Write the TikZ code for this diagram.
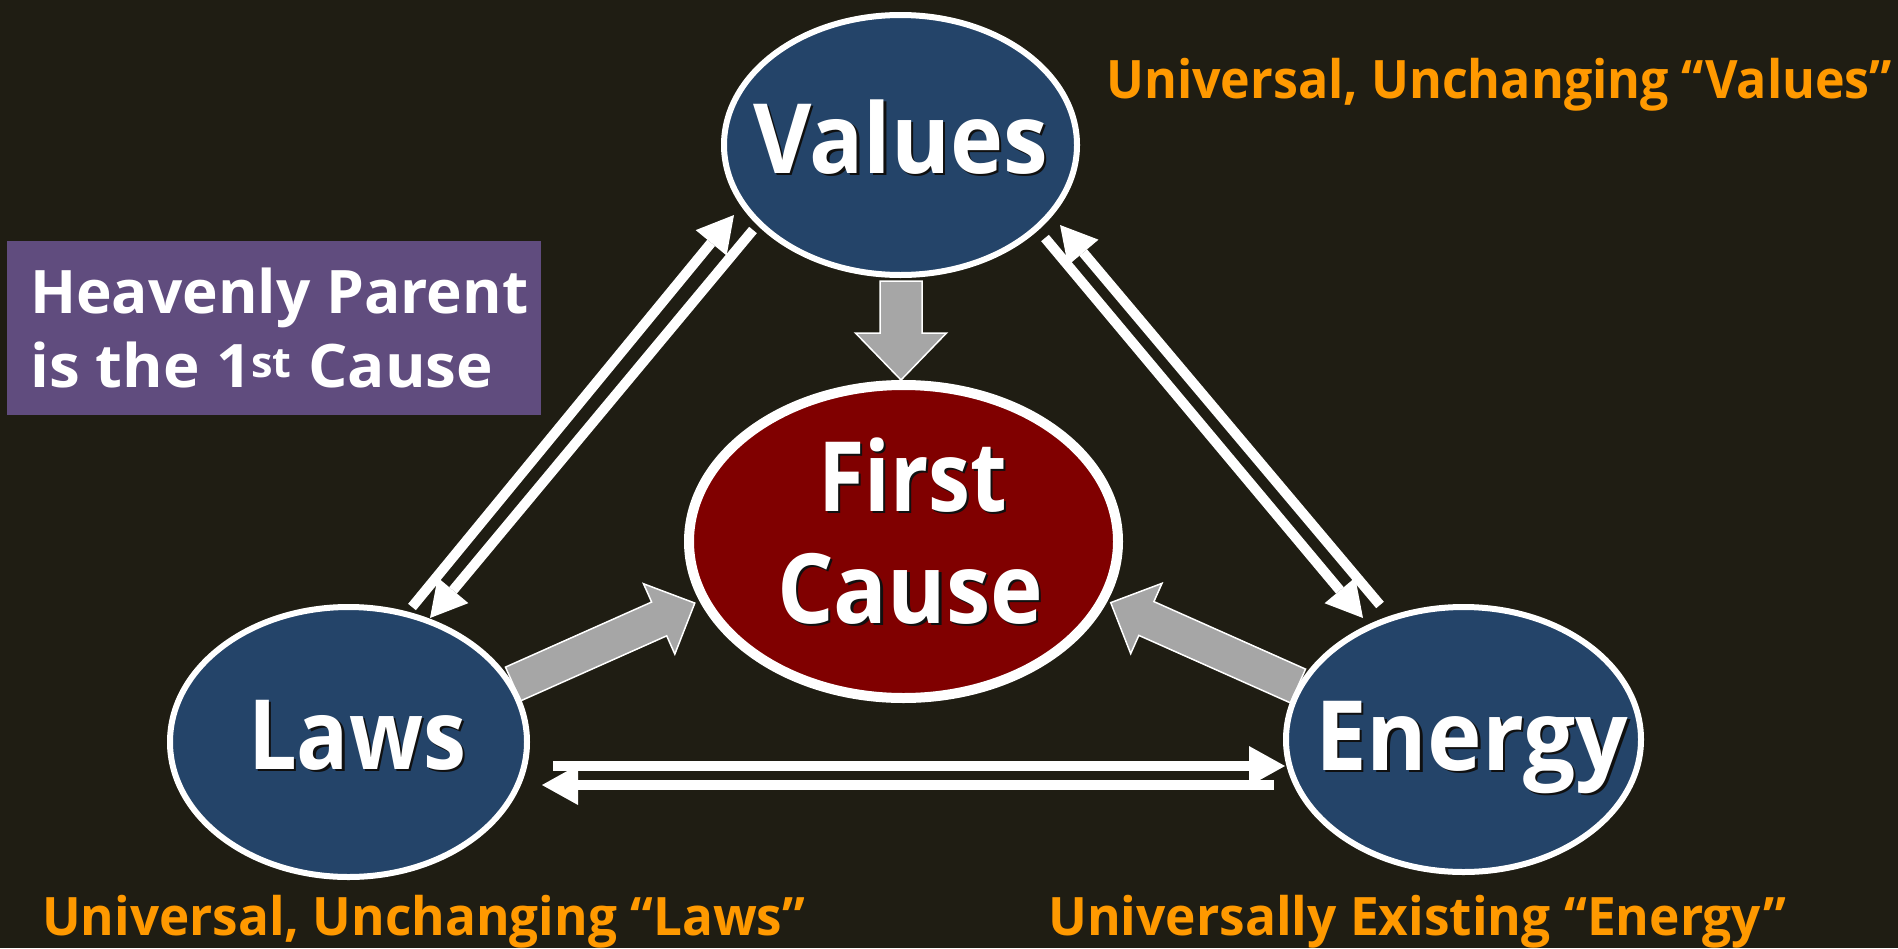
\documentclass[tikz,border=0pt]{standalone}
\usepackage{fontspec}
\usepackage{graphicx}
\setmainfont{Open Sans}
\usetikzlibrary{arrows.meta,shapes.geometric}
\definecolor{bg}{HTML}{1F1D13}
\definecolor{ellblue}{HTML}{244469}
\definecolor{causered}{HTML}{800000}
\definecolor{boxpurple}{HTML}{604C7E}
\definecolor{lblorange}{HTML}{FF9900}
\definecolor{arrgray}{HTML}{A6A6A6}
\definecolor{shadowc}{HTML}{101010}
\newcommand\shd[1]{\leavevmode\rlap{\kern2.5pt\raisebox{-2.5pt}{\textcolor{shadowc}{#1}}}#1}
\newcommand\fitw[2]{\resizebox{#1}{\height}{#2}}
\newcommand\blockarrow[7]{%
  \begin{scope}[shift={#1}, rotate=#2]
    \path[#7] (0,-#4) -- ({#3-#6},-#4) -- ({#3-#6},-#5) -- (#3,0) -- ({#3-#6},#5) -- ({#3-#6},#4) -- (0,#4) -- cycle;
  \end{scope}}
\begin{document}
\begin{tikzpicture}[x=1pt,y=-1pt,
  bigtext/.style={text=white,font=\fontsize{97}{112}\selectfont\bfseries,inner sep=0pt,anchor=base},
  blueell/.style={ellipse,draw=white,line width=6pt,fill=ellblue,inner sep=0pt},
  redell/.style={ellipse,draw=white,line width=10pt,fill=causered,inner sep=0pt},
  wline/.style={draw=white,line width=10pt,-{Triangle[length=36pt,width=40pt,line width=0pt 0 0]}},
  garrow/.style={fill=arrgray,draw=white,line width=1.5pt},
  orangelbl/.style={text=lblorange,font=\fontsize{53}{60}\selectfont\bfseries,inner sep=0pt,anchor=base west},
  notetext/.style={text=white,font=\fontsize{60}{74}\selectfont\bfseries,inner sep=0pt,anchor=base west}]
\path[fill=bg] (0,0) rectangle (1898,948);
\useasboundingbox (0,0) rectangle (1898,948);

% coordinates for connectors
\coordinate (a1) at (412,607); \coordinate (a2) at (734,215);
\coordinate (b1) at (753,230); \coordinate (b2) at (430,618);
\coordinate (c1) at (1045,238); \coordinate (c2) at (1363,618);
\coordinate (d1) at (1380,605); \coordinate (d2) at (1060,225);
\coordinate (e1) at (553,766); \coordinate (e2) at (1285,766);
\coordinate (f1) at (1274,785); \coordinate (f2) at (542,785);

% gray block arrows to First Cause
\blockarrow{(901,281)}{-90}{99}{21}{45.5}{47}{garrow}
\blockarrow{(513,684)}{24}{199}{18.5}{38.5}{39}{garrow}
\blockarrow{(1298,686)}{156}{205}{18.5}{38.5}{39}{garrow}

% ellipses
\node[blueell,minimum width=353pt,minimum height=260pt] (values) at (900.5,145) {};
\node[redell,minimum width=429pt,minimum height=313pt] (fc) at (903.5,541.5) {};
\node[blueell,minimum width=357pt,minimum height=270pt] (laws) at (348.5,742) {};
\node[blueell,minimum width=355pt,minimum height=265pt] (energy) at (1463.5,739.5) {};

% white connectors
\draw[wline] (a1) -- (a2);
\draw[wline] (b1) -- (b2);
\draw[wline] (c1) -- (c2);
\draw[wline] (d1) -- (d2);
\draw[wline] (e1) -- (e2);
\draw[wline] (f1) -- (f2);

% texts in ellipses
\node[bigtext] (valuesT) at (900.5,173) {\shd{\fitw{295pt}{Values}}};
\node[bigtext] (fcT1) at (912.5,511) {\shd{\fitw{189pt}{First}}};
\node[bigtext] (fcT2) at (910,623) {\shd{\fitw{266pt}{Cause}}};
\node[bigtext] (lawsT) at (357,769) {\shd{\fitw{218pt}{Laws}}};
\node[bigtext] (energyT) at (1471.5,770) {\shd{\fitw{313pt}{Energy}}};

% note box
\node[fill=boxpurple,minimum width=534pt,minimum height=174pt,inner sep=0pt,anchor=north west] (note) at (7,241) {};
\node[notetext] (note1) at (30,313) {\fitw{498pt}{Heavenly Parent}};
\node[notetext] (note2) at (30,387) {\fitw{463pt}{is the 1\textsuperscript{st} Cause}};

% orange labels
\node[orangelbl] (lblValues) at (1106,98) {\fitw{786pt}{Universal, Unchanging “Values”}};
\node[orangelbl] (lblLaws) at (42,935) {\fitw{763pt}{Universal, Unchanging “Laws”}};
\node[orangelbl] (lblEnergy) at (1048,935) {\fitw{738pt}{Universally Existing “Energy”}};
\end{tikzpicture}
\end{document}
